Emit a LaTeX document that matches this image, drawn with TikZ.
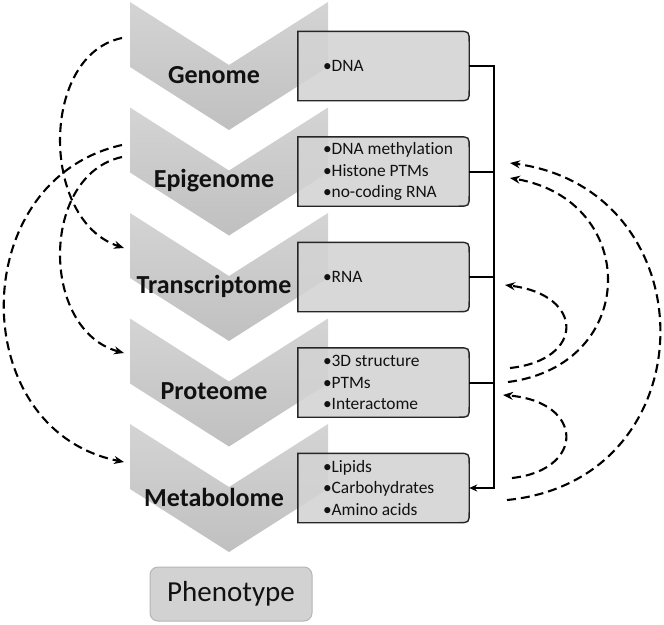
\documentclass[tikz,border=0pt]{standalone}
\usepackage{fontspec}
\setmainfont[Ligatures=NoCommon]{Carlito}
\usetikzlibrary{arrows.meta,calc}
\definecolor{chevA}{HTML}{D4D4D4}
\definecolor{chevB}{HTML}{C0C0C0}
\definecolor{boxfill}{HTML}{D3D3D3}
\definecolor{boxline}{HTML}{262626}
\definecolor{phenofill}{HTML}{D2D2D2}
\definecolor{phenoline}{HTML}{B5B5B5}
\definecolor{ink}{HTML}{111111}
\begin{document}
\begin{tikzpicture}[x=1pt,y=-1pt,
  chevshade/.style={top color=chevA, bottom color=chevB, draw=none},
  chevlabel/.style={font=\fontsize{26}{30}\selectfont\bfseries, text=ink, inner sep=0},
  boxshape/.style={draw=none, minimum width=171pt, minimum height=69pt, inner sep=0},
  boxstyle/.style={fill=boxfill, fill opacity=0.88, draw=boxline, line width=1.4pt},
  boxtext/.style={font=\fontsize{17.4}{21.5}\selectfont, text=ink, align=left, inner sep=0},
  busline/.style={draw=black, line width=2pt},
  dasharrow/.style={draw=black, line width=2.1pt, dash pattern=on 9pt off 5pt,
    -{Stealth[length=10pt,width=8pt]}},
  pheno/.style={fill=phenofill, draw=phenoline, line width=1pt, rounded corners=8pt,
    minimum width=162pt, minimum height=54pt, font=\fontsize{29}{32}\selectfont, text=ink}
]
\useasboundingbox (0,0) rectangle (664,624);

% chevrons
\foreach \t in {2,107.5,213,318.5,424}{
  \shade[chevshade] (130,\t) -- (229,\t+63) -- (328,\t) -- (328,\t+65) -- (229,\t+128) -- (130,\t+65) -- cycle;
}

% chevron labels
\node[chevlabel] (g1) at (214,75) {Genome};
\node[chevlabel] (g2) at (214,180.5) {Epigenome};
\node[chevlabel] (g3) at (214,286) {Transcriptome};
\node[chevlabel] (g4) at (214,391.5) {Proteome};
\node[chevlabel] (g5) at (214,497) {Metabolome};

% boxes
\foreach \i/\c in {1/66,2/171.5,3/277,4/382.5,5/488}{
  \node[boxshape] (b\i) at (383.5,\c) {};
  \path[boxstyle] (b\i.south west) -- (b\i.north west) -- ([xshift=-11pt]b\i.north east)
    .. controls (b\i.north east) .. ([yshift=-11pt]b\i.north east)
    -- ([yshift=11pt]b\i.south east)
    .. controls (b\i.south east) .. ([xshift=-11pt]b\i.south east) -- cycle;
}
\node[boxtext, anchor=west] (t1) at ([xshift=25pt]b1.west) {•DNA};
\node[boxtext, anchor=west] (t2) at ([xshift=25pt]b2.west) {•DNA methylation\\•Histone PTMs\\•no-coding RNA};
\node[boxtext, anchor=west] (t3) at ([xshift=25pt]b3.west) {•RNA};
\node[boxtext, anchor=west] (t4) at ([xshift=25pt]b4.west) {•3D structure\\•PTMs\\•Interactome};
\node[boxtext, anchor=west] (t5) at ([xshift=25pt]b5.west) {•Lipids\\•Carbohydrates\\•Amino acids};

% bus
\coordinate (busT) at (494,66);
\coordinate (busB) at (494,488);
\draw[busline, -{Stealth[length=8pt,width=7pt]}] (b1.east) -- (busT) -- (busB) -- (b5.east);
\foreach \i in {2,3,4}{
  \draw[busline] (b\i.east) -- (b\i.east -| busT);
}

% phenotype
\node[pheno] (ph) at (231,594) {Phenotype};

% left dashed arrows
\coordinate (gOut) at (122,38);
\coordinate (eOutA) at (122,145);
\coordinate (eOutB) at (122,157);
\coordinate (tIn) at (124,248);
\coordinate (pIn) at (124,353);
\coordinate (mIn) at (124,462);
\draw[dasharrow] (gOut) .. controls (40,55) and (40,220) .. (tIn);
\draw[dasharrow] (eOutA) .. controls (-35,180) and (-35,430) .. (mIn);
\draw[dasharrow] (eOutB) .. controls (40,175) and (40,330) .. (pIn);

% right dashed arrows
\coordinate (mOutA) at (507,500);
\coordinate (pOutA) at (508,382);
\coordinate (pOutB) at (510,368);
\coordinate (mOutB) at (512,478);
\coordinate (eInA) at (510,163);
\coordinate (eInB) at (510,178);
\coordinate (tInR) at (505,285);
\coordinate (pInR) at (503,395);
\draw[dasharrow] (mOutA) .. controls (710,480) and (710,190) .. (eInA);
\draw[dasharrow] (pOutA) .. controls (640,365) and (640,200) .. (eInB);
\draw[dasharrow] (pOutB) .. controls (585,360) and (585,295) .. (tInR);
\draw[dasharrow] (mOutB) .. controls (585,470) and (585,402) .. (pInR);
\end{tikzpicture}
\end{document}
